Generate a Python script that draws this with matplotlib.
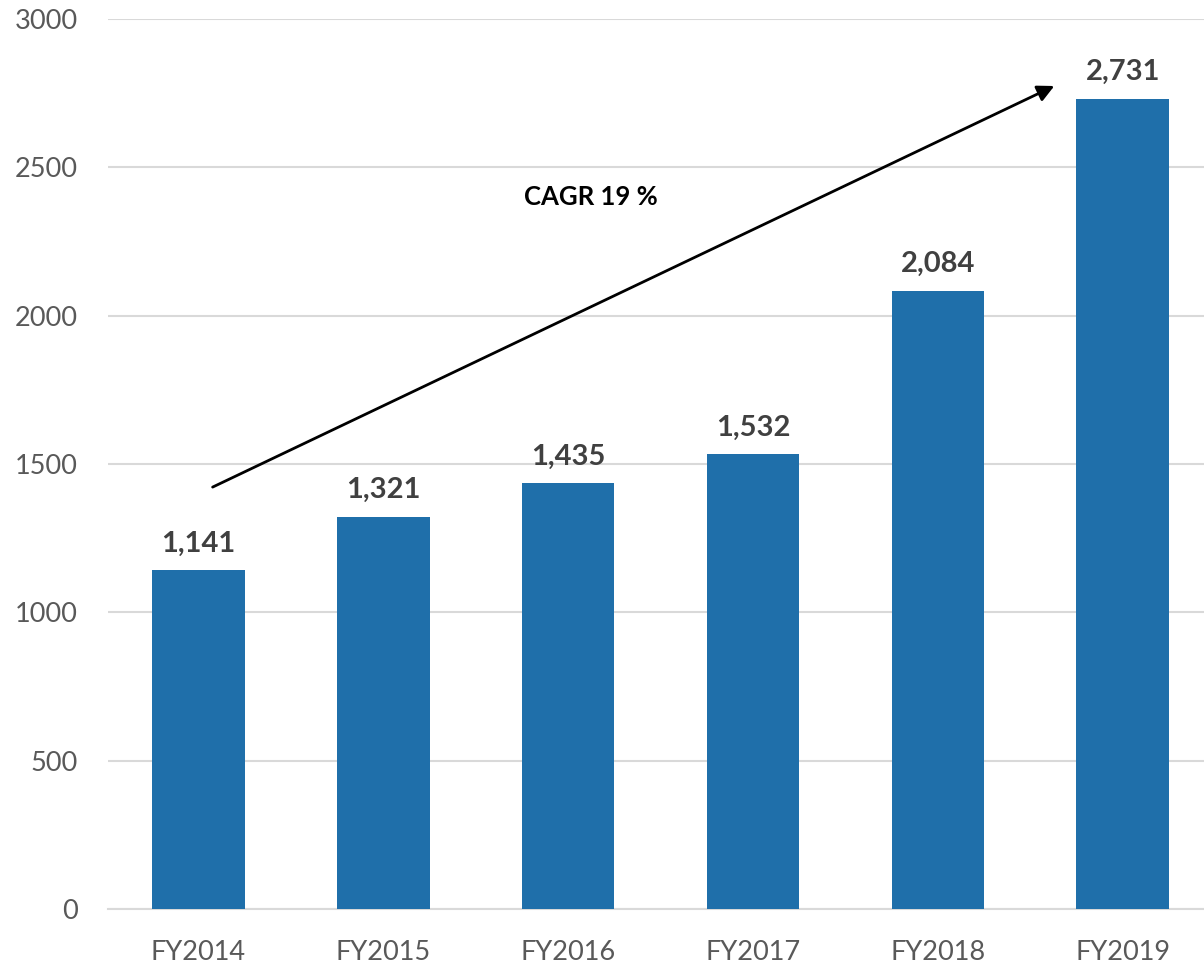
import matplotlib
matplotlib.use('Agg')
import matplotlib.pyplot as plt

# Yearly values shown on the bars
years = ['FY2014', 'FY2015', 'FY2016', 'FY2017', 'FY2018', 'FY2019']
values = [1141, 1321, 1435, 1532, 2084, 2731]
yticks = [0, 500, 1000, 1500, 2000, 2500, 3000]
cagr_text = 'CAGR 19 %'

plt.rcParams['font.family'] = ['Lato', 'DejaVu Sans']

fig = plt.figure(figsize=(12.04, 9.67), dpi=100)
ax = fig.add_axes([0.0897, 0.06, 0.9103, 0.9204])

x = list(range(len(years)))
bars = ax.bar(x, values, width=0.5, color='#1F6FAA', zorder=3)

# value labels above each bar
for xi, v in zip(x, values):
    ax.annotate(f'{v:,}', (xi, v), xytext=(0, 10), textcoords='offset points',
                ha='center', va='bottom', fontsize=21, fontweight='bold',
                color='#404040')

ax.set_xlim(-0.49, 5.44)
ax.set_ylim(0, 3000)
ax.set_yticks(yticks)
ax.set_xticks(x)
ax.set_xticklabels(years)
ax.tick_params(axis='both', length=0, labelsize=19.5, labelcolor='#595959')
ax.tick_params(axis='x', pad=22)
ax.tick_params(axis='y', pad=22)
ax.grid(axis='y', color='#D9D9D9', linewidth=1.5, zorder=0)
for s in ['top', 'right', 'left']:
    ax.spines[s].set_visible(False)
ax.spines['bottom'].set_color('#D9D9D9')
ax.spines['bottom'].set_linewidth(1.5)

# growth arrow with CAGR note
ax.annotate('', xy=(4.63, 2774), xytext=(0.076, 1422),
            arrowprops=dict(arrowstyle='-|>', color='black', lw=2,
                            mutation_scale=25, shrinkA=0, shrinkB=0))
ax.text(2.12, 2400, cagr_text, ha='center', va='center', fontsize=18.5,
        fontweight='bold', color='black')

fig.savefig('out.png', dpi=100)
